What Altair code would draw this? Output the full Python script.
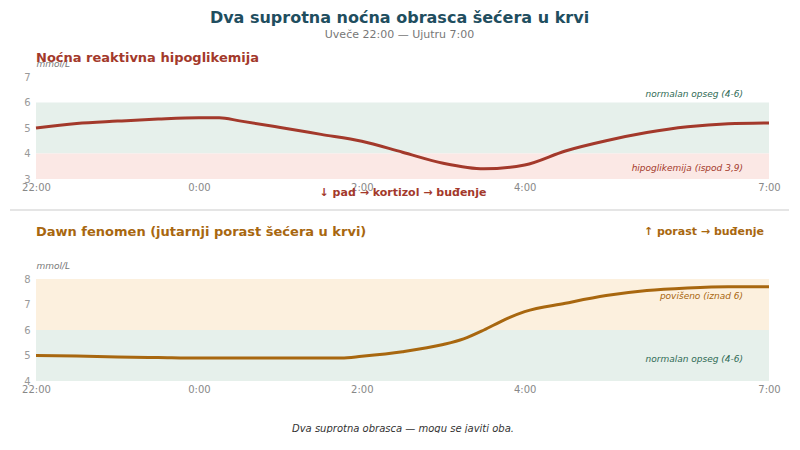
import altair as alt
import pandas as pd

# --- data ---
hypo_times = ['22:00', '22:30', '23:00', '23:30', '0:00', '0:15', '0:30', '1:00', '1:30', '2:00',
              '2:30', '3:00', '3:30', '4:00', '4:30', '5:00', '5:30', '6:00', '6:30', '7:00']
hypo_values = [5.0, 5.18, 5.27, 5.35, 5.4, 5.4, 5.28, 5.02, 4.75, 4.48,
               4.05, 3.62, 3.4, 3.55, 4.1, 4.5, 4.82, 5.05, 5.17, 5.2]

dawn_times = ['22:00', '22:30', '23:00', '23:30', '0:00', '0:30', '1:00', '1:30', '1:45', '2:00',
              '2:30', '3:00', '3:15', '3:30', '3:45', '4:00', '4:30', '5:00', '5:30', '6:00',
              '6:30', '7:00']
dawn_values = [5.0, 4.98, 4.94, 4.92, 4.9, 4.9, 4.9, 4.9, 4.9, 4.97,
               5.15, 5.43, 5.65, 6.0, 6.4, 6.72, 7.05, 7.35, 7.55, 7.65,
               7.7, 7.7]

tick_labels = ['22:00', '0:00', '2:00', '4:00', '7:00']

hypo_band_lo = [4, 3]
hypo_band_hi = [6, 4]
hypo_band_names = ['normalan opseg (4-6)', 'hipoglikemija (ispod 3,9)']

dawn_band_lo = [6, 4]
dawn_band_hi = [8, 6]
dawn_band_names = ['povišeno (iznad 6)', 'normalan opseg (4-6)']


def to_hours(t):
    hh, mm = t.split(':')
    return (int(hh) - 22) % 24 + int(mm) / 60


tick_hours = [to_hours(t) for t in tick_labels]
label_expr = ' : '.join(f"datum.value == {h} ? '{l}'" for h, l in zip(tick_hours, tick_labels)) + " : ''"

hypo = pd.DataFrame({'h': [to_hours(t) for t in hypo_times], 'v': hypo_values})
dawn = pd.DataFrame({'h': [to_hours(t) for t in dawn_times], 'v': dawn_values})

GREEN_BAND = '#e6f0eb'
PINK_BAND = '#fbe8e5'
ORANGE_BAND = '#fcf0de'
RED = '#a3392b'
GOLD = '#a8670f'
GREEN_TXT = '#2f6b55'

W, H = 733, 102


def panel(df, lo, hi, names, band_colors, text_colors, label_y, ydom, line_color,
          title, title_color, xtitle, xtitle_y, xtitle_style, right_note=None, separator=False):
    bands = pd.DataFrame({'lo': lo, 'hi': hi, 'name': names, 'x0': 0, 'x1': 9, 'ly': label_y})
    xs = alt.Scale(domain=[0, 9], nice=False, zero=False)
    ys = alt.Scale(domain=ydom, nice=False, zero=False)
    xa = alt.Axis(values=tick_hours, labelExpr=label_expr, grid=False, domain=False,
                  ticks=False, labelColor='#888', labelFontSize=10, labelPadding=3,
                  labelFlush=False, labelOverlap=False, title=xtitle, titleY=xtitle_y,
                  titleBaseline='middle', **xtitle_style)
    yvals = list(range(ydom[0], ydom[1] + 1))
    ya = alt.Axis(values=yvals, grid=False, domain=False, ticks=False, labelColor='#999',
                  labelFontSize=10, labelPadding=6, labelFlush=False, labelOverlap=False,
                  title='mmol/L', titleAngle=0, titleAlign='left', titleX=0, titleY=-14,
                  titleBaseline='middle', titleFontStyle='italic', titleFontWeight='normal',
                  titleColor='#777', titleFontSize=9)
    band = alt.Chart(bands).mark_rect().encode(
        x=alt.X('x0:Q', scale=xs, axis=xa), x2='x1', y=alt.Y('lo:Q', scale=ys, axis=ya), y2='hi',
        color=alt.Color('name:N', scale=alt.Scale(domain=names, range=band_colors), legend=None))
    band_txt = alt.Chart(bands).mark_text(align='right', dx=-26, fontSize=9, fontStyle='italic').encode(
        x=alt.X('x1:Q', scale=xs, axis=xa), y=alt.Y('ly:Q', scale=ys, axis=ya), text='name:N',
        color=alt.Color('name:N', scale=alt.Scale(domain=names, range=text_colors), legend=None))
    line = alt.Chart(df).mark_line(color=line_color, strokeWidth=3, interpolate='monotone').encode(
        x=alt.X('h:Q', scale=xs, axis=xa), y=alt.Y('v:Q', scale=ys, axis=ya))
    ttl = alt.Chart(pd.DataFrame({'t': [title]})).mark_text(
        align='left', baseline='middle', fontSize=13, fontWeight='bold', color=title_color
    ).encode(x=alt.value(0), y=alt.value(-19 if not right_note else -47), text='t:N')
    layers = [band, band_txt, line, ttl]
    if right_note:
        layers.append(alt.Chart(pd.DataFrame({'t': [right_note]})).mark_text(
            align='right', baseline='middle', fontSize=11, fontWeight='bold', color=title_color
        ).encode(x=alt.value(W - 5), y=alt.value(-47), text='t:N'))
    if separator:
        layers.append(alt.Chart(pd.DataFrame({'a': [0]})).mark_rule(color='#dddddd', strokeWidth=1.5).encode(
            x=alt.value(-26), x2=alt.value(753), y=alt.value(133)))
    return alt.layer(*layers).resolve_scale(color='independent').properties(width=W, height=H)


top = panel(hypo, hypo_band_lo, hypo_band_hi, hypo_band_names, [GREEN_BAND, PINK_BAND],
            [GREEN_TXT, RED], [6.35, 3.43], [3, 7], RED,
            'Noćna reaktivna hipoglikemija', RED,
            '↓ pad → kortizol → buđenje', 13,
            dict(titleColor=RED, titleFontSize=11, titleFontWeight='bold'),
            separator=True)

bottom = panel(dawn, dawn_band_lo, dawn_band_hi, dawn_band_names, [ORANGE_BAND, GREEN_BAND],
               [GOLD, GREEN_TXT], [7.33, 4.87], [4, 8], GOLD,
               'Dawn fenomen (jutarnji porast šećera u krvi)', GOLD,
               'Dva suprotna obrasca — mogu se javiti oba.', 47,
               dict(titleColor='#333', titleFontSize=10, titleFontWeight='normal', titleFontStyle='italic'),
               right_note='↑ porast → buđenje')

chart = alt.vconcat(top, bottom, spacing=15).properties(
    title=alt.TitleParams('Dva suprotna noćna obrasca šećera u krvi',
                          subtitle='Uveče 22:00 — Ujutru 7:00',
                          anchor='middle', fontSize=16, fontWeight='bold', color='#1f4e5f',
                          subtitleFontSize=11, subtitleColor='#777', subtitlePadding=3, offset=12),
    padding={'left': 1, 'top': 2, 'right': 0, 'bottom': 0}
).configure(font='DejaVu Sans').configure_view(strokeWidth=0).configure_axis(grid=False)

chart.save("out.html", embed_options={"renderer": "svg", "actions": False})
